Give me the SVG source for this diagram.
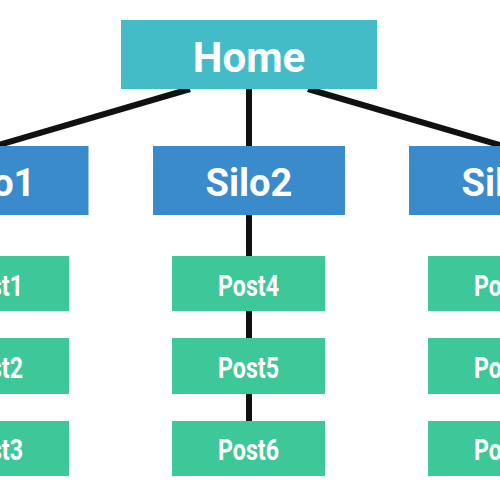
<svg xmlns="http://www.w3.org/2000/svg" width="500" height="500" viewBox="0 0 500 500">
<style>
.home{fill:#43bcc8}
.silo{fill:#3a8bcb}
.post{fill:#3ec89a}
text{font-family:Roboto,"Liberation Sans",sans-serif;font-weight:bold;fill:#fff;text-anchor:middle}
.t1{font-size:42px}
.t2{font-size:38px}
.t3{font-size:29px}
.c{stroke:#111;stroke-width:6;fill:none}
</style>
<rect width="500" height="500" fill="#fff"/>
<g id="connectors">
<line class="c" x1="190" y1="89" x2="-8" y2="147"/>
<line class="c" x1="249" y1="89" x2="249" y2="146"/>
<line class="c" x1="308" y1="89" x2="506" y2="147"/>
<line class="c" x1="249" y1="215" x2="249" y2="421"/>
</g>
<g id="home"><rect class="home" x="121" y="20" width="256" height="69"/><text class="t1" x="249" y="72">Home</text></g>
<g id="silo1"><rect class="silo" x="-104" y="146" width="192.5" height="69"/><text class="t2" x="-8" y="196">Silo1</text></g>
<g id="silo2"><rect class="silo" x="153" y="146" width="192" height="69"/><text class="t2" x="249" y="196">Silo2</text></g>
<g id="silo3"><rect class="silo" x="409" y="146" width="192" height="69"/><text class="t2" x="505" y="196">Silo3</text></g>
<g id="post1"><rect class="post" x="-84" y="256" width="153" height="55"/><text class="t3" x="-7.5" y="296" textLength="61" lengthAdjust="spacingAndGlyphs">Post1</text></g>
<g id="post2"><rect class="post" x="-84" y="338" width="153" height="56"/><text class="t3" x="-7.5" y="378" textLength="61" lengthAdjust="spacingAndGlyphs">Post2</text></g>
<g id="post3"><rect class="post" x="-84" y="421" width="153" height="55"/><text class="t3" x="-7.5" y="460" textLength="61" lengthAdjust="spacingAndGlyphs">Post3</text></g>
<g id="post4"><rect class="post" x="172" y="256" width="153" height="55"/><text class="t3" x="248.5" y="296" textLength="61" lengthAdjust="spacingAndGlyphs">Post4</text></g>
<g id="post5"><rect class="post" x="172" y="338" width="153" height="56"/><text class="t3" x="248.5" y="378" textLength="61" lengthAdjust="spacingAndGlyphs">Post5</text></g>
<g id="post6"><rect class="post" x="172" y="421" width="153" height="55"/><text class="t3" x="248.5" y="460" textLength="61" lengthAdjust="spacingAndGlyphs">Post6</text></g>
<g id="post7"><rect class="post" x="428" y="256" width="153" height="55"/><text class="t3" x="504.5" y="296" textLength="61" lengthAdjust="spacingAndGlyphs">Post7</text></g>
<g id="post8"><rect class="post" x="428" y="338" width="153" height="56"/><text class="t3" x="504.5" y="378" textLength="61" lengthAdjust="spacingAndGlyphs">Post8</text></g>
<g id="post9"><rect class="post" x="428" y="421" width="153" height="55"/><text class="t3" x="504.5" y="460" textLength="61" lengthAdjust="spacingAndGlyphs">Post9</text></g>
</svg>
